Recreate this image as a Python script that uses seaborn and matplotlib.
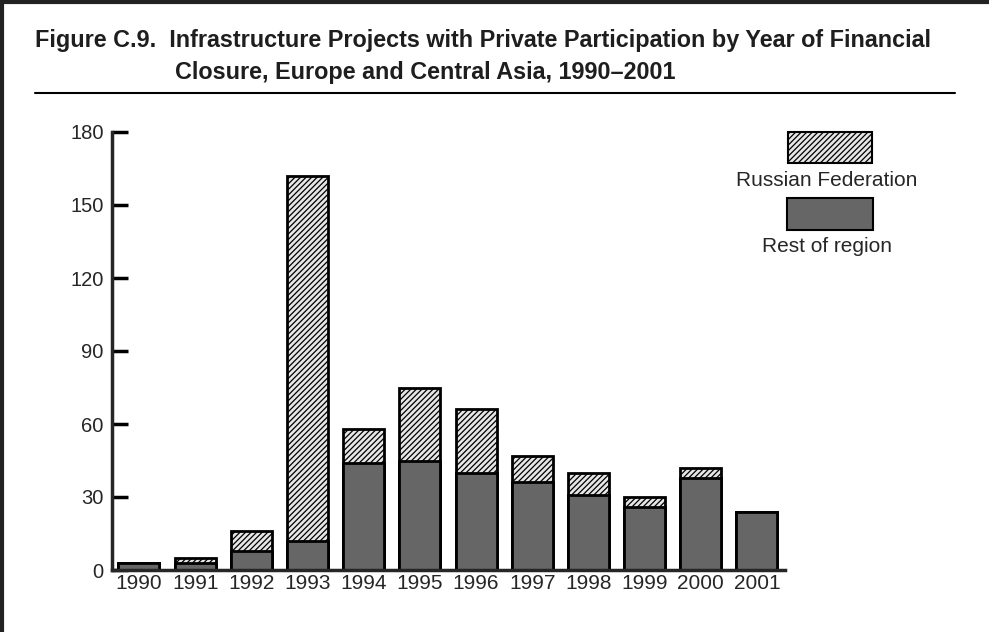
import matplotlib
matplotlib.use("Agg")
import matplotlib.pyplot as plt
import matplotlib.transforms as mtrans
import seaborn as sns
import pandas as pd
from matplotlib.patches import Rectangle
from matplotlib.lines import Line2D

years = ["1990", "1991", "1992", "1993", "1994", "1995", "1996", "1997", "1998", "1999", "2000", "2001"]
rest_of_region = [3, 3, 8, 12, 44, 45, 40, 36, 31, 26, 38, 24]
russian_federation = [0, 2, 8, 150, 14, 30, 26, 11, 9, 4, 4, 0]
yticks = [0, 30, 60, 90, 120, 150, 180]
title_line1 = "Figure C.9.  Infrastructure Projects with Private Participation by Year of Financial"
title_line2 = "Closure, Europe and Central Asia, 1990\u20132001"
legend_labels = ["Russian Federation", "Rest of region"]

sns.set_style("white")
plt.rcParams['font.family'] = ['Liberation Sans', 'DejaVu Sans']
plt.rcParams['hatch.linewidth'] = 0.9

df = pd.DataFrame({"year": years, "rest": rest_of_region, "russia": russian_federation})
df["total"] = df["rest"] + df["russia"]

GRAY = "#666666"
HATCHBG = "#e6e6e6"
fig = plt.figure(figsize=(9.89, 6.32), dpi=100)
ax = fig.add_axes([112/989, 1 - 570/632, (785-112)/989, (570-132)/632])

sns.barplot(data=df, x="year", y="total", color=HATCHBG, edgecolor="black",
            linewidth=2, hatch="//////", width=0.73, ax=ax, saturation=1)
sns.barplot(data=df, x="year", y="rest", color=GRAY, edgecolor="black",
            linewidth=2, width=0.73, ax=ax, saturation=1)

ax.set_xlim(-0.48, 11.5)
ax.set_ylim(0, 180)
ax.set_yticks(yticks)
ax.set_yticklabels([str(v) for v in yticks])
ax.set_xlabel("")
ax.set_ylabel("")
for s in ["top", "right"]:
    ax.spines[s].set_visible(False)
ax.spines["left"].set_linewidth(2.5)
ax.spines["bottom"].set_linewidth(2.5)
ax.tick_params(axis="y", left=True, direction="in", length=11.5, width=2.5,
               labelsize=14.5, pad=-2, color="black")
ax.tick_params(axis="x", bottom=False, length=0, labelsize=15, pad=3)
offset = mtrans.ScaledTranslation(-11/100, 0, fig.dpi_scale_trans)
for lab in ax.get_yticklabels():
    lab.set_horizontalalignment("right")
    lab.set_transform(lab.get_transform() + offset)

# Legend drawn manually
fig.add_artist(Rectangle((788/989, 1 - 163/632), 84/989, 31/632, transform=fig.transFigure,
                         facecolor=HATCHBG, edgecolor="black", hatch="//////", linewidth=1.5))
fig.text(827/989, 1 - 181/632, legend_labels[0], ha="center", va="center", fontsize=15)
fig.add_artist(Rectangle((787/989, 1 - 230/632), 86/989, 32/632, transform=fig.transFigure,
                         facecolor=GRAY, edgecolor="black", linewidth=1.5))
fig.text(827/989, 1 - 247/632, legend_labels[1], ha="center", va="center", fontsize=15)

# Title
fig.text(35/989, 1 - 41/632, title_line1, fontsize=16.85, fontweight="bold",
         va="center", ha="left", color="#1e1e1e")
fig.text(175/989, 1 - 73/632, title_line2, fontsize=16.85, fontweight="bold",
         va="center", ha="left", color="#1e1e1e")
fig.add_artist(Line2D([35/989, 955/989], [1 - 93/632, 1 - 93/632], transform=fig.transFigure,
                      color="black", linewidth=1.5))
# Frame lines (top and left)
fig.add_artist(Line2D([0, 1], [1 - 1.5/632, 1 - 1.5/632], transform=fig.transFigure, color="#222222", linewidth=3))
fig.add_artist(Line2D([1.5/989, 1.5/989], [0, 1], transform=fig.transFigure, color="#222222", linewidth=3))

fig.savefig("out.png", dpi=100)
